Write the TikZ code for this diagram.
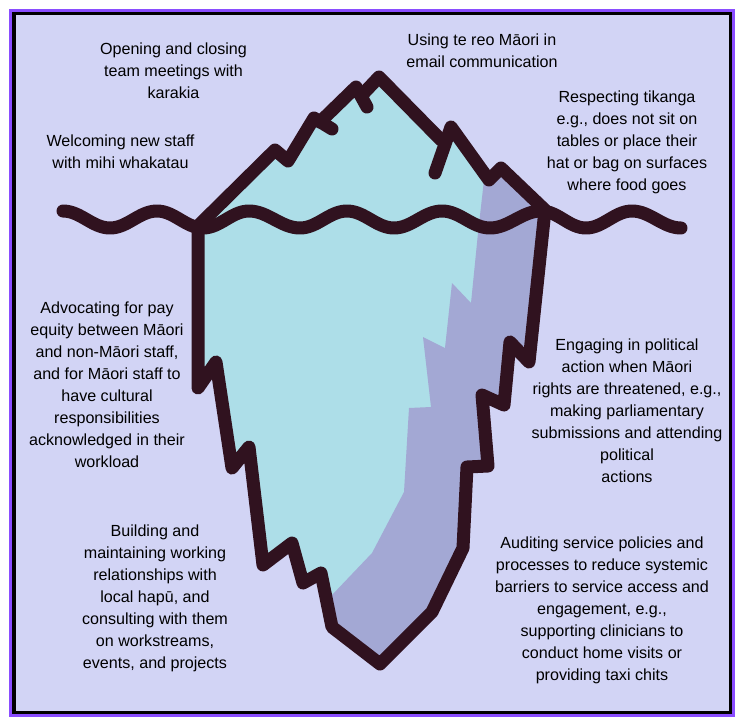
\documentclass[tikz,border=0pt]{standalone}
\usepackage{fontspec}
\usepackage{tikz}
\setmainfont{Liberation Sans}
\definecolor{skyback}{HTML}{D2D4F5}
\definecolor{frameviolet}{HTML}{8A4DFF}
\definecolor{icelight}{HTML}{ADDEE8}
\definecolor{iceshade}{HTML}{A3A8D4}
\definecolor{iceline}{HTML}{30121F}
\tikzset{
  blurb/.style={align=center,text=black,font=\fontsize{16.1}{22}\selectfont},
  outline/.style={draw=iceline,line width=13,line cap=round,line join=round},
}

\begin{document}
\begin{tikzpicture}[x=1pt,y=-1pt]
\useasboundingbox [fill=white](0,0) rectangle (745,724);
\draw[frameviolet][fill=frameviolet](9,9) rectangle (734,716);
\draw[black][fill=black](12,12) rectangle (731,713);
\draw[skyback][fill=skyback](16,15) rectangle (728,710);
% iceberg body
\fill[icelight](198,226)--(275,150)--(288,161)--(314,118)--(356,87)--(363,95)--(379,77)--(441,140)--(451,127)--(489,180)--(501,168)--(545,210)--(529,362)--(510,342)--(504,405)--(482,395)--(488,466)--(467,467)--(463,548)--(432,612)--(380,664)--(332,627)--(321,573)--(303,583)--(292,543)--(263,565)--(249,447)--(232,468)--(216,362)--(198,388)--cycle;
% shaded side
\fill[iceshade](484,180)--(478,233)--(471,303)--(452,283)--(445,348)--(423,337)--(431,407)--(409,408)--(404,492)--(372,553)--(332,595)--(332,627)--(380,664)--(432,612)--(463,548)--(467,467)--(488,466)--(482,395)--(504,405)--(510,342)--(529,362)--(545,210)--(501,168)--(489,180)--cycle;
% outline
\draw[outline](198,226)--(275,150)--(288,161)--(314,118)--(332,129);
\draw[outline](320,122)--(356,87)--(367,107);
\draw[outline](362,95)--(379,77)--(441,140);
\draw[outline](435,173)--(451,127)--(489,180)--(501,168)--(545,210)--(529,362)--(510,342)--(504,405)--(482,395)--(488,466)--(467,467)--(463,548)--(432,612)--(380,664)--(332,627)--(321,573)--(303,583)--(292,543)--(263,565)--(249,447)--(232,468)--(216,362)--(198,388)--(198,226);
% water
\draw[outline](63,211) to[out=0,in=180,looseness=.9](110,228) to[out=0,in=180,looseness=.9](157,211)
  to[out=0,in=180,looseness=.9](203,228) to[out=0,in=180,looseness=.9](249,211)
  to[out=0,in=180,looseness=.9](300,228) to[out=0,in=180,looseness=.9](347,211)
  to[out=0,in=180,looseness=.9](394,228) to[out=0,in=180,looseness=.9](442,211)
  to[out=0,in=180,looseness=.9](490,228) to[out=0,in=180,looseness=.9](541,211)
  to[out=0,in=180,looseness=.9](586,228) to[out=0,in=180,looseness=.9](632,211)
  to[out=0,in=180,looseness=.9](681,228);
% labels
\node (karakia) at (173.5,71) [blurb]{Opening and closing\\team meetings with\\karakia};
\node (mihi) at (120.5,152) [blurb]{Welcoming new staff\\with mihi whakatau};
\node (email) at (482,51) [blurb]{Using te reo Māori in\\email communication};
\node (tikanga) at (627,142) [blurb]{Respecting tikanga\\e.g., does not sit on\\tables or place their\\hat or bag on surfaces\\where food goes};
\node (equity) at (107,385) [blurb]{Advocating for pay\\equity between Māori\\and non-Māori staff,\\and for Māori staff to\\have cultural\\responsibilities\\acknowledged in their\\workload};
\node (political) at (627,411) [blurb]{Engaging in political\\action when Māori\\rights are threatened, e.g.,\\making parliamentary\\submissions and attending\\political\\actions};
\node (hapu) at (155,598) [blurb]{Building and\\maintaining working\\relationships with\\local hapū, and\\consulting with them\\on workstreams,\\events, and projects};
\node (audit) at (602,610) [blurb]{Auditing service policies and\\processes to reduce systemic\\barriers to service access and\\engagement, e.g.,\\supporting clinicians to\\conduct home visits or\\providing taxi chits};
\end{tikzpicture}
\end{document}
